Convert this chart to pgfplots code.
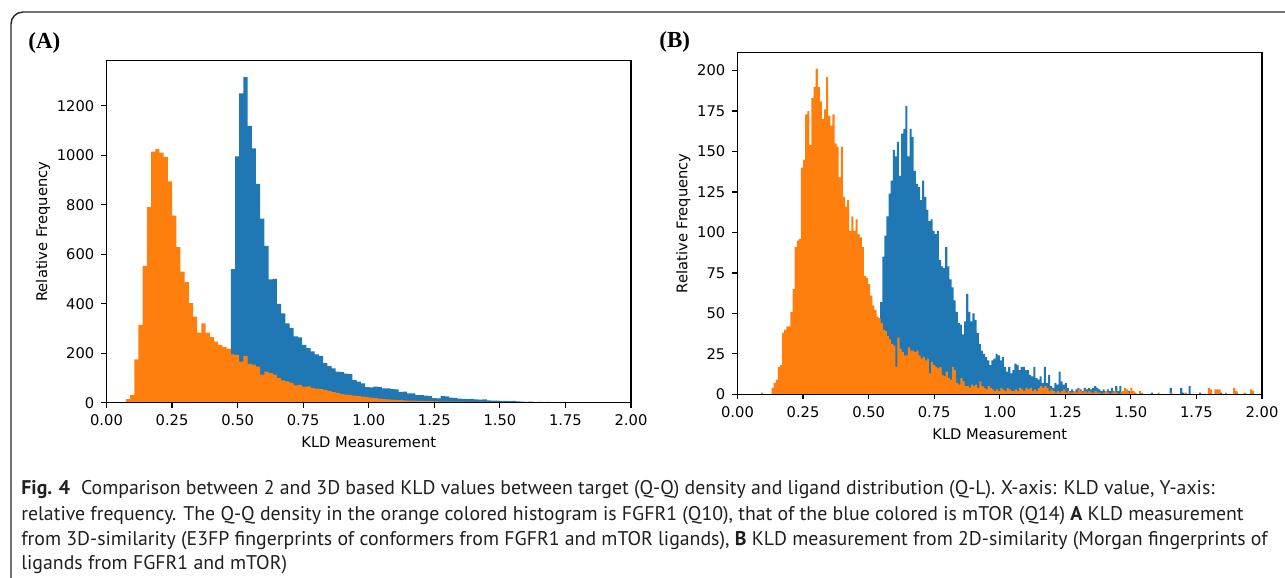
\documentclass[border=0pt]{standalone}
\usepackage{fontspec}
\setmainfont{DejaVu Sans}
\newfontfamily\capfont{PT Sans}
\newfontfamily\panelfont{Liberation Serif}
\usepackage{pgfplots}
\pgfplotsset{compat=1.18}
\definecolor{tabblue}{HTML}{1F77B4}
\definecolor{taborange}{HTML}{FF7F0E}
\pgfplotsset{kld/.style={
  scale only axis, width=262.25pt, height=171pt,
  xmin=0, xmax=2, ymin=0,
  axis line style={line width=0.6pt, black},
  tick align=outside, xtick pos=bottom, ytick pos=left,
  major tick length=2.6pt,
  every tick/.style={black, line width=0.6pt},
  tick label style={font=\fontsize{7.35}{8}\selectfont},
  label style={font=\fontsize{7.35}{8}\selectfont},
  /pgf/number format/assume math mode=true,
  /pgf/number format/1000 sep={},
  xtick={0,0.25,0.5,0.75,1,1.25,1.5,1.75,2},
  xticklabel style={/pgf/number format/.cd, fixed, fixed zerofill, precision=2},
  xlabel={KLD Measurement}, ylabel={Relative Frequency},
  xlabel shift=-1.5pt, ylabel shift=-3.5pt,
  axis on top,
}}
\begin{document}
\begin{tikzpicture}[x=1pt,y=1pt]
\useasboundingbox (0,0) rectangle (642.5,289);
\begin{scope}
\clip (0,0) rectangle (642.5,289);
\draw[line width=0.7pt, black!85, rounded corners=6pt] (5.5,-20) -- (5.5,283) -- (680,283);
\end{scope}
\node[anchor=base west, inner sep=0pt, font=\panelfont\bfseries\fontsize{11.5}{13}\selectfont] at (14,264.5) {(A)};
\node[anchor=base west, inner sep=0pt, font=\panelfont\bfseries\fontsize{11.5}{13}\selectfont] at (329.5,265) {(B)};

\begin{axis}[kld, at={(53.25pt,87.65pt)}, anchor=south west, ymax=1382, ytick={0,200,400,600,800,1000,1200}]
\addplot[const plot, fill=tabblue, draw=none] coordinates {
(0.474,540) (0.490,995) (0.506,1250) (0.522,1316) (0.538,1119) (0.554,1028) (0.570,884) (0.586,744) (0.602,634) (0.618,498) (0.634,500) (0.650,399) (0.666,361) (0.682,321) (0.698,302) (0.714,268) (0.730,264) (0.746,234) (0.762,221) (0.778,207) (0.794,195) (0.810,189) (0.826,160) (0.842,148) (0.858,139) (0.874,126) (0.890,124) (0.906,117) (0.922,115) (0.938,92) (0.954,85) (0.970,78) (0.986,63) (1.002,62) (1.018,65) (1.034,64) (1.050,58) (1.066,58) (1.082,55) (1.098,54) (1.114,44) (1.130,45) (1.146,38) (1.162,38) (1.178,31) (1.194,31) (1.210,29) (1.226,27) (1.242,18) (1.258,17) (1.274,27) (1.290,26) (1.306,20) (1.322,19) (1.338,16) (1.354,15) (1.370,14) (1.386,15) (1.402,13) (1.418,12) (1.434,13) (1.450,9) (1.466,8) (1.482,8) (1.498,7) (1.514,7) (1.530,6) (1.546,7) (1.562,5) (1.578,4) (1.594,3) (1.610,4) (1.626,2) (1.642,3) (1.658,2) (1.674,3) (1.690,1) (1.706,2) (1.722,1) (1.738,3) (1.754,1) (1.770,2) (1.786,1) (1.802,2) (1.818,1) (1.834,1) (1.850,2) (1.866,1) (1.882,1) (1.898,1) (1.914,1) (1.930,1) (1.946,0)
} \closedcycle;
\addplot[const plot, fill=taborange, draw=none] coordinates {
(0.074,14) (0.090,31) (0.106,175) (0.122,314) (0.138,553) (0.154,790) (0.170,1015) (0.186,1026) (0.202,1011) (0.218,993) (0.234,894) (0.250,756) (0.266,629) (0.282,530) (0.298,487) (0.314,402) (0.330,348) (0.346,283) (0.362,321) (0.378,283) (0.394,265) (0.410,247) (0.426,234) (0.442,226) (0.458,218) (0.474,195) (0.490,193) (0.506,166) (0.522,189) (0.538,157) (0.554,154) (0.570,146) (0.586,113) (0.602,126) (0.618,120) (0.634,113) (0.650,100) (0.666,90) (0.682,86) (0.698,80) (0.714,70) (0.730,72) (0.746,64) (0.762,66) (0.778,60) (0.794,57) (0.810,55) (0.826,52) (0.842,48) (0.858,43) (0.874,40) (0.890,36) (0.906,33) (0.922,31) (0.938,29) (0.954,27) (0.970,25) (0.986,23) (1.002,20) (1.018,18) (1.034,16) (1.050,14) (1.066,13) (1.082,12) (1.098,11) (1.114,10) (1.130,9) (1.146,8) (1.162,8) (1.178,7) (1.194,7) (1.210,6) (1.226,6) (1.242,5) (1.258,5) (1.274,4) (1.290,4) (1.306,4) (1.322,3) (1.338,4) (1.354,3) (1.370,3) (1.386,3) (1.402,2) (1.418,3) (1.434,2) (1.450,2) (1.466,2) (1.482,2) (1.498,1) (1.514,2) (1.530,1) (1.546,1) (1.562,1) (1.578,1) (1.594,1) (1.610,0) (1.626,1) (1.642,0) (1.690,1) (1.706,0) (1.770,1) (1.786,0) (1.850,1) (1.866,0) (1.930,1) (1.946,0)
} \closedcycle;
\end{axis}

\begin{axis}[kld, at={(368.75pt,91.85pt)}, anchor=south west, ymax=211.3, ytick={0,25,50,75,100,125,150,175,200}]
\addplot[const plot, fill=tabblue, draw=none] coordinates {
(0.544,57) (0.552,85) (0.560,98) (0.568,110) (0.576,124) (0.584,132) (0.592,151) (0.600,147) (0.608,156) (0.616,135) (0.624,161) (0.632,164) (0.640,178) (0.648,147) (0.656,164) (0.664,159) (0.672,138) (0.680,130) (0.688,128) (0.696,120) (0.704,132) (0.712,122) (0.720,114) (0.728,107) (0.736,108) (0.744,101) (0.752,99) (0.760,101) (0.768,83) (0.776,79) (0.784,78) (0.792,91) (0.800,79) (0.808,71) (0.816,66) (0.824,58) (0.832,51) (0.840,44) (0.848,43) (0.856,37) (0.864,45) (0.872,62) (0.880,51) (0.888,45) (0.896,50) (0.904,46) (0.912,38) (0.920,31) (0.928,27) (0.936,25) (0.944,23) (0.952,21) (0.960,18) (0.968,21) (0.976,22) (0.984,25) (0.992,24) (1.000,21) (1.008,23) (1.016,17) (1.024,14) (1.032,17) (1.040,13) (1.048,15) (1.056,19) (1.064,18) (1.072,15) (1.080,17) (1.088,17) (1.096,15) (1.104,15) (1.112,12) (1.120,11) (1.128,17) (1.136,10) (1.144,9) (1.152,11) (1.160,7) (1.168,17) (1.176,7) (1.184,12) (1.192,5) (1.200,4) (1.208,7) (1.216,6) (1.224,14) (1.232,8) (1.240,6) (1.248,7) (1.256,4) (1.264,2) (1.272,3) (1.280,2) (1.288,3) (1.296,4) (1.304,3) (1.312,2) (1.320,4) (1.328,3) (1.336,4) (1.344,3) (1.352,4) (1.360,5) (1.368,4) (1.376,3) (1.384,2) (1.392,3) (1.400,2) (1.408,3) (1.416,2) (1.424,4) (1.432,2) (1.440,5) (1.448,2) (1.456,5) (1.464,1) (1.472,2) (1.480,1) (1.488,2) (1.496,1) (1.504,0) (1.576,1) (1.584,0) (1.648,4) (1.656,0) (1.688,4) (1.696,1) (1.704,0) (1.720,5) (1.728,0) (1.760,1) (1.768,0) (1.840,1) (1.848,0) (1.900,1) (1.908,0)
} \closedcycle;
\addplot[const plot, fill=taborange, draw=none] coordinates {
(0.090,1) (0.098,0) (0.130,4) (0.138,7) (0.146,9) (0.154,17) (0.162,18) (0.170,38) (0.178,40) (0.186,42) (0.194,42) (0.202,51) (0.210,65) (0.218,91) (0.226,95) (0.234,96) (0.242,140) (0.250,145) (0.258,173) (0.266,175) (0.274,154) (0.282,183) (0.290,190) (0.298,201) (0.306,190) (0.314,181) (0.322,170) (0.330,176) (0.338,196) (0.346,172) (0.354,166) (0.362,173) (0.370,155) (0.378,153) (0.386,134) (0.394,153) (0.402,122) (0.410,116) (0.418,120) (0.426,101) (0.434,110) (0.442,101) (0.450,108) (0.458,99) (0.466,97) (0.474,91) (0.482,73) (0.490,72) (0.498,68) (0.506,61) (0.514,55) (0.522,52) (0.530,48) (0.538,47) (0.546,44) (0.554,40) (0.562,39) (0.570,36) (0.578,34) (0.586,31) (0.594,30) (0.602,17) (0.610,35) (0.618,28) (0.626,26) (0.634,24) (0.642,24) (0.650,29) (0.658,27) (0.666,27) (0.674,26) (0.682,27) (0.690,24) (0.698,22) (0.706,23) (0.714,21) (0.722,22) (0.730,13) (0.738,20) (0.746,18) (0.754,17) (0.762,16) (0.770,17) (0.778,12) (0.786,11) (0.794,14) (0.802,10) (0.810,9) (0.818,17) (0.826,15) (0.834,7) (0.842,6) (0.850,10) (0.858,8) (0.866,5) (0.874,5) (0.882,4) (0.890,6) (0.898,5) (0.906,6) (0.914,4) (0.922,8) (0.930,5) (0.938,4) (0.946,3) (0.954,5) (0.962,4) (0.970,3) (0.978,2) (0.986,3) (0.994,2) (1.002,4) (1.010,3) (1.018,2) (1.026,4) (1.034,3) (1.042,2) (1.050,2) (1.058,3) (1.066,2) (1.074,4) (1.082,3) (1.090,2) (1.098,4) (1.106,3) (1.114,4) (1.122,2) (1.130,3) (1.138,2) (1.146,4) (1.154,5) (1.162,4) (1.170,5) (1.178,4) (1.186,2) (1.194,3) (1.202,2) (1.210,1) (1.218,2) (1.226,1) (1.234,2) (1.242,3) (1.250,1) (1.258,2) (1.266,1) (1.274,1) (1.282,2) (1.290,1) (1.298,3) (1.306,2) (1.314,1) (1.322,2) (1.330,1) (1.338,2) (1.346,1) (1.354,1) (1.362,2) (1.370,1) (1.378,1) (1.386,0) (1.394,1) (1.402,2) (1.410,1) (1.418,0) (1.426,1) (1.434,2) (1.442,1) (1.450,0) (1.458,1) (1.466,2) (1.474,4) (1.482,3) (1.490,1) (1.498,4) (1.506,2) (1.514,1) (1.522,0) (1.530,2) (1.538,1) (1.546,0) (1.602,1) (1.610,0) (1.650,1) (1.658,0) (1.706,1) (1.714,0) (1.794,4) (1.802,3) (1.810,0) (1.818,3) (1.826,3) (1.834,3) (1.842,0) (1.858,1) (1.866,0) (1.890,4) (1.898,2) (1.906,0) (1.930,1) (1.938,0) (1.954,3) (1.962,2) (1.970,0)
} \closedcycle;
\end{axis}

\begin{scope}[every node/.style={anchor=base west, inner sep=0pt, font=\capfont\fontsize{9.9}{12}\selectfont, text=black!88}]
\node at (10.5,41.5) {\textbf{Fig. 4}\hspace{0.55em}Comparison between 2 and 3D based KLD values between target (Q-Q) density and ligand distribution (Q-L). X-axis: KLD value, Y-axis:};
\node at (10.5,28.5) {relative frequency. The Q-Q density in the orange colored histogram is FGFR1 (Q10), that of the blue colored is mTOR (Q14) \textbf{A} KLD measurement};
\node at (10.5,16) {from 3D-similarity (E3FP fingerprints of conformers from FGFR1 and mTOR ligands), \textbf{B} KLD measurement from 2D-similarity (Morgan fingerprints of};
\node at (10.5,4) {ligands from FGFR1 and mTOR)};
\end{scope}
\end{tikzpicture}
\end{document}
